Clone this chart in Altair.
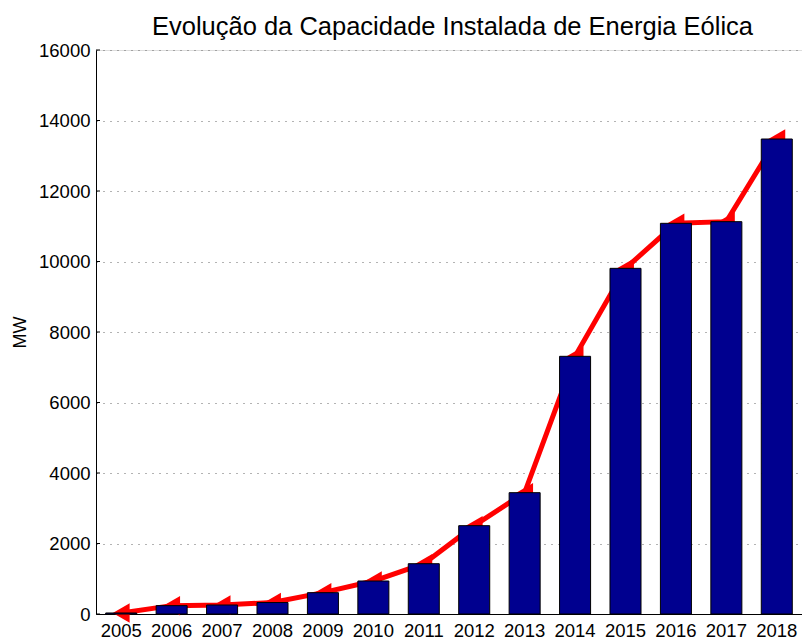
import altair as alt
import pandas as pd

# ---- data ----
years = [2005, 2006, 2007, 2008, 2009, 2010, 2011, 2012, 2013, 2014, 2015, 2016, 2017, 2018]
capacity_mw = [29, 237, 255, 325, 605, 936, 1427, 2506, 3442, 7310, 9806, 11083, 11130, 13475]
y_ticks = [0, 2000, 4000, 6000, 8000, 10000, 12000, 14000, 16000]
title_text = "Evolução da Capacidade Instalada de Energia Eólica"
y_title = "MW"

# ---- layout / style ----
W, H = 706, 564
YMAX = 16000
FONT = "Liberation Sans"
BAR_COLOR = "#00008F"
LINE_COLOR = "#FF0000"

df = pd.DataFrame({"year": [str(y) for y in years], "mw": capacity_mw})
ticks_df = pd.DataFrame({"mw": y_ticks})
title_df = pd.DataFrame({"t": [title_text]})

x_enc = alt.X(
    "year:O",
    scale=alt.Scale(paddingInner=0.385, paddingOuter=0.1925),
    axis=alt.Axis(
        title=None, labelAngle=0, labelFont=FONT, labelFontSize=18.5, labelColor="black",
        domainColor="black", domainWidth=1, ticks=False, tickSize=0, labelPadding=7, grid=False,
    ),
)
y_axis = alt.Axis(
    title=y_title, values=y_ticks, format="d",
    labelFont=FONT, labelFontSize=18.5, labelColor="black", labelPadding=6,
    ticks=False, tickSize=0, domainColor="black", domainWidth=1,
    grid=True, gridColor="#666666", gridDash=[1, 6], gridWidth=1,
    titleFont=FONT, titleFontSize=18, titleFontWeight="normal", titleColor="black",
    titleAngle=270, titleX=-76, titleY=H / 2, titleAlign="center", titleBaseline="middle",
)
y_enc = alt.Y("mw:Q", scale=alt.Scale(domain=[0, YMAX], nice=False), axis=y_axis)

base = alt.Chart(df)

line = base.mark_line(color=LINE_COLOR, strokeWidth=5, strokeJoin="miter").encode(x=x_enc, y=y_enc)
heads = base.mark_point(
    shape="triangle-left", filled=True, color=LINE_COLOR, opacity=1, size=380
).encode(x=x_enc, y=y_enc)
bars = base.mark_bar(color=BAR_COLOR, stroke="black", strokeWidth=1).encode(x=x_enc, y=y_enc)
inner_ticks = alt.Chart(ticks_df).mark_rule(color="black", strokeWidth=1).encode(
    x=alt.value(0), x2=alt.value(4), y=y_enc
)
title_mark = alt.Chart(title_df).mark_text(
    font=FONT, fontSize=25.5, color="black", align="center", baseline="alphabetic"
).encode(text="t:N", x=alt.value(W / 2 + 3.5), y=alt.value(-15))

chart = (
    alt.layer(line, heads, bars, inner_ticks, title_mark)
    .properties(
        width=W,
        height=H,
        autosize=alt.AutoSizeParams(type="none"),
        padding={"left": 88, "top": 42, "right": 0, "bottom": 25},
    )
    .configure_view(stroke=None)
    .configure(background="white")
)

chart.save("out.html", embed_options={"renderer": "svg", "actions": False})
